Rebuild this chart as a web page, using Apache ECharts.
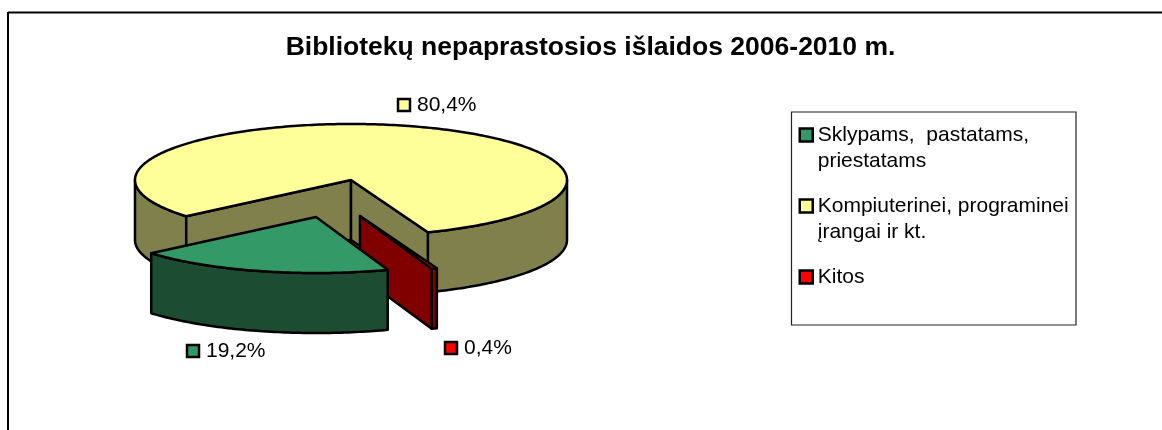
<!DOCTYPE html>
<html>
<head>
<meta charset="utf-8">
<style>html,body{margin:0;padding:0;background:#fff}#c{width:1162px;height:430px}</style>
<script src="https://cdn.jsdelivr.net/npm/echarts@6/dist/echarts.min.js"></script>
</head>
<body>
<div id="c"></div>
<script>
const titleText = 'Bibliotekų nepaprastosios išlaidos 2006-2010 m.';
const categories = ['Sklypams,  pastatams,\npriestatams', 'Kompiuterinei, programinei\nįrangai ir kt.', 'Kitos'];
const values = [19.2, 80.4, 0.4];
const topColors = ['#339966', '#FFFF99', '#FF0000'];
const sideColors = ['#1C4D33', '#80804D', '#800000'];
const explodeOffsets = [[-35, 37], [0, 0], [9, 36]];
const labelAnchors = [[193, 351], [404, 105], [451, 348]];
const drawOrder = [1, 2, 0];
const legendTops = [122, 193, 264];

const FONT = '"Liberation Sans", Arial, sans-serif';
const pie = { cx: 351, cy: 180, rx: 216, ry: 56, depth: 60, firstAngle: 160.6 };
const total = values.reduce((a, b) => a + b, 0);
const startAngles = [];
values.reduce((acc, v, i) => { startAngles[i] = acc; return acc + v / total * 360; }, pie.firstAngle);

function project(deg, r, drop, off) {
  const a = deg * Math.PI / 180;
  return [pie.cx + off[0] + pie.rx * r * Math.sin(a), pie.cy + off[1] - pie.ry * r * Math.cos(a) + drop];
}
function arc(a0, a1, drop, off) {
  const pts = [], n = Math.max(2, Math.ceil(Math.abs(a1 - a0)));
  for (let i = 0; i <= n; i++) pts.push(project(a0 + (a1 - a0) * i / n, 1, drop, off));
  return pts;
}
function renderSlice(i, api) {
  const v = api.value(0), a0 = startAngles[i], a1 = a0 + v / total * 360, off = explodeOffsets[i];
  const line = { stroke: '#000', lineWidth: 2.5, lineJoin: 'round' };
  const side = Object.assign({ fill: sideColors[i] }, line);
  const children = [];
  // outer rim: only the front half of the ellipse (90..270 degrees, every turn)
  for (let k = 0; k < 2; k++) {
    const lo = Math.max(a0, 90 + 360 * k), hi = Math.min(a1, 270 + 360 * k);
    if (hi > lo) {
      const pts = arc(lo, hi, 0, off).concat(arc(hi, lo, pie.depth, off));
      children.push({ type: 'polygon', shape: { points: pts }, style: side });
    }
  }
  // radial walls, drawn when they face the viewer
  const wall = a => ({ type: 'polygon', shape: { points: [
    project(a, 0, 0, off), project(a, 1, 0, off), project(a, 1, pie.depth, off), project(a, 0, pie.depth, off)
  ] }, style: side });
  if (-Math.cos((a0 - 90) * Math.PI / 180) > 0) children.push(wall(a0));
  if (-Math.cos((a1 + 90) * Math.PI / 180) > 0) children.push(wall(a1));
  // top face
  const topPts = [project(a0, 0, 0, off)].concat(arc(a0, a1, 0, off));
  children.push({ type: 'polygon', shape: { points: topPts }, style: Object.assign({ fill: topColors[i] }, line) });
  // data label with legend key
  const [lx, ly] = labelAnchors[i];
  children.push({ type: 'rect', shape: { x: lx - 6, y: ly - 6, width: 12, height: 12 },
    style: { fill: topColors[i], stroke: '#000', lineWidth: 2.5 } });
  children.push({ type: 'text', style: { x: lx + 13, y: ly, text: v.toFixed(1).replace('.', ',') + '%',
    fill: '#000', font: '21px ' + FONT, textAlign: 'left', textVerticalAlign: 'middle' } });
  return { type: 'group', children };
}

const series = drawOrder.map(i => ({
  type: 'custom',
  name: categories[i],
  coordinateSystem: 'none',
  data: [[values[i]]],
  itemStyle: { color: topColors[i] },
  silent: true,
  clip: false,
  renderItem: (p, api) => renderSlice(i, api)
}));

const legends = categories.map((name, i) => {
  const twoLines = name.indexOf('\n') >= 0;
  return {
    data: [{ name, icon: twoLines ? 'path://M0 0H13V13H0Z M13 39' : 'rect',
      itemStyle: { color: topColors[i], borderColor: '#000', borderWidth: 2.5 } }],
    left: 798.5, top: legendTops[i], padding: 0, orient: 'vertical',
    itemWidth: 13, itemHeight: twoLines ? 39 : 13,
    selectedMode: false,
    textStyle: { color: '#000', fontSize: 21, fontFamily: FONT, lineHeight: 26 }
  };
});

const chart = echarts.init(document.getElementById('c'), null, { renderer: 'canvas' });
chart.setOption({
  animation: false,
  backgroundColor: '#fff',
  title: { text: titleText, left: 590.5, top: 34, textAlign: 'center', padding: 0,
    textStyle: { color: '#000', fontSize: 26.5, fontWeight: 'bold', fontFamily: FONT } },
  legend: legends,
  graphic: [
    { type: 'line', z: -1, shape: { x1: 8, y1: 12.5, x2: 1162, y2: 12.5 }, style: { stroke: '#000', lineWidth: 2 } },
    { type: 'line', z: -1, shape: { x1: 8, y1: 12, x2: 8, y2: 430 }, style: { stroke: '#000', lineWidth: 2 } },
    { type: 'rect', z: -1, shape: { x: 791.5, y: 112, width: 284.5, height: 213 }, style: { fill: '#fff', stroke: '#222', lineWidth: 1.2 } }
  ],
  series
});
</script>
</body>
</html>
